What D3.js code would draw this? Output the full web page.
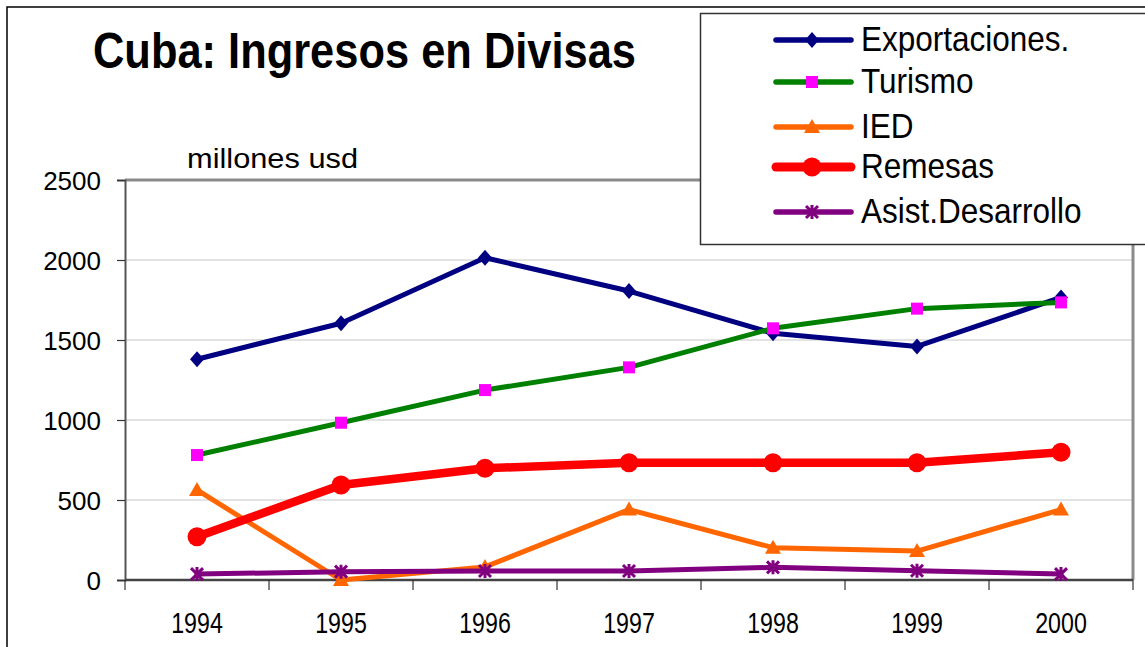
<!DOCTYPE html>
<html>
<head>
<meta charset="utf-8">
<script src="https://cdn.jsdelivr.net/npm/d3@7"></script>
<style>
  body { margin: 0; background: #fff; }
  svg text { font-family: "Liberation Sans", Arial, sans-serif; fill: #000; }
</style>
</head>
<body>
<div id="chart"></div>
<script>
// Data (millones usd)
const years = ["1994", "1995", "1996", "1997", "1998", "1999", "2000"];
const exportaciones = [1380, 1605, 2014, 1806, 1542, 1460, 1766];
const turismo = [781, 983, 1187, 1329, 1573, 1696, 1735];
const ied = [563, 0, 82, 440, 202, 181, 440];
const remesas = [270, 594, 698, 733, 733, 733, 798];
const asistencia = [37, 52, 56, 56, 79, 58, 37];
const yTicks = [0, 500, 1000, 1500, 2000, 2500];

const series = [
    { name: "Exportaciones.", values: exportaciones, color: "#000080", width: 5, marker: "diamond", mcolor: "#000080" },
    { name: "Turismo", values: turismo, color: "#008000", width: 5, marker: "square", mcolor: "#FF00FF" },
    { name: "IED", values: ied, color: "#FF6600", width: 5, marker: "triangle", mcolor: "#FF6600" },
    { name: "Remesas", values: remesas, color: "#FF0000", width: 8.5, marker: "circle", mcolor: "#FF0000" },
    { name: "Asist.Desarrollo", values: asistencia, color: "#800080", width: 5, marker: "star", mcolor: "#800080" }
];

const width = 1145, height = 647;
const plot = { left: 125, right: 1133, top: 180, bottom: 580 };

const svg = d3.select("#chart").append("svg")
    .attr("width", width)
    .attr("height", height);

// outer chart frame (only top and left edges visible)
svg.append("path")
    .attr("d", `M7,${height} L7,7 L${width},7`)
    .attr("fill", "none")
    .attr("stroke", "#000")
    .attr("stroke-width", 1.5);

const x = d3.scaleBand().domain(years).range([plot.left, plot.right]).padding(0);
const y = d3.scaleLinear().domain([0, 2500]).range([plot.bottom, plot.top]);
const cx = d => x(d) + x.bandwidth() / 2;

// gridlines
svg.append("g")
    .selectAll("line")
    .data(yTicks.filter(t => t > 0 && t < 2500))
    .join("line")
    .attr("x1", plot.left).attr("x2", plot.right)
    .attr("y1", d => y(d)).attr("y2", d => y(d))
    .attr("stroke", "#c8c8c8")
    .attr("stroke-width", 1.2);

// plot frame top / right
svg.append("path")
    .attr("d", `M${plot.left},${plot.top} L${plot.right},${plot.top} L${plot.right},${plot.bottom}`)
    .attr("fill", "none")
    .attr("stroke", "#8a8a8a")
    .attr("stroke-width", 3);

// y axis
const yAxis = svg.append("g")
    .attr("transform", `translate(${plot.left},0)`)
    .call(d3.axisLeft(y).tickValues(yTicks).tickSize(8).tickPadding(16).tickFormat(d3.format("d")));
yAxis.select(".domain").attr("stroke", "#555").attr("stroke-width", 2);
yAxis.selectAll(".tick line").attr("stroke", "#333").attr("stroke-width", 1.2);
yAxis.selectAll("text")
    .attr("font-size", 26)
    .attr("font-family", "Liberation Sans, Arial, sans-serif")
    .attr("fill", "#000")
    .attr("dy", "0.36em");

// x axis: ticks at category boundaries
const xAxis = svg.append("g")
    .attr("transform", `translate(0,${plot.bottom})`);
xAxis.append("line")
    .attr("x1", plot.left).attr("x2", plot.right)
    .attr("stroke", "#444").attr("stroke-width", 2.5);
xAxis.selectAll("line.tick")
    .data(years.concat(["end"]))
    .join("line")
    .attr("class", "tick")
    .attr("x1", (d, i) => plot.left + i * x.bandwidth())
    .attr("x2", (d, i) => plot.left + i * x.bandwidth())
    .attr("y1", 0).attr("y2", 10)
    .attr("stroke", "#333").attr("stroke-width", 1.2);
xAxis.selectAll("text")
    .data(years)
    .join("text")
    .attr("x", d => cx(d))
    .attr("y", 53)
    .attr("text-anchor", "middle")
    .attr("font-size", 29)
    .text(d => d)
    .each(function() {
        const w = this.getComputedTextLength();
        d3.select(this).attr("textLength", w * 0.8).attr("lengthAdjust", "spacingAndGlyphs");
    });

// marker drawing
function drawMarker(sel, type, color) {
    if (type === "circle") {
        sel.append("circle").attr("r", 9.5).attr("fill", color);
    } else if (type === "star") {
        sel.append("path")
            .attr("d", "M0,-7 L0,7 M-6,-6 L6,6 M-6,6 L6,-6")
            .attr("stroke", color)
            .attr("stroke-width", 3)
            .attr("fill", "none");
    } else if (type === "diamond") {
        sel.append("path").attr("d", "M0,-8 L7,0 L0,8 L-7,0Z").attr("fill", color);
    } else if (type === "square") {
        sel.append("rect").attr("x", -6).attr("y", -6).attr("width", 12).attr("height", 12).attr("fill", color);
    } else {
        sel.append("path").attr("d", "M0,-8 L8,6 L-8,6Z").attr("fill", color);
    }
}

const line = d3.line()
    .x((d, i) => cx(years[i]))
    .y(d => y(d));

series.forEach(s => {
    const g = svg.append("g");
    g.append("path")
        .datum(s.values)
        .attr("d", line)
        .attr("fill", "none")
        .attr("stroke", s.color)
        .attr("stroke-width", s.width)
        .attr("stroke-linejoin", "round")
        .attr("stroke-linecap", "round");
    g.selectAll("g.mk")
        .data(s.values)
        .join("g")
        .attr("class", "mk")
        .attr("transform", (d, i) => `translate(${cx(years[i])},${y(d)})`)
        .each(function() { drawMarker(d3.select(this), s.marker, s.mcolor); });
});

// title and unit label
svg.append("text")
    .attr("x", 93).attr("y", 68)
    .attr("font-size", 50)
    .attr("font-weight", "bold")
    .attr("textLength", 543)
    .attr("lengthAdjust", "spacingAndGlyphs")
    .text("Cuba: Ingresos en Divisas");

svg.append("text")
    .attr("x", 187).attr("y", 168)
    .attr("font-size", 28)
    .attr("textLength", 171)
    .attr("lengthAdjust", "spacingAndGlyphs")
    .text("millones usd");

// legend
const legend = svg.append("g");
legend.append("rect")
    .attr("x", 700.5).attr("y", 13.5)
    .attr("width", 460).attr("height", 231)
    .attr("fill", "#fff")
    .attr("stroke", "#333")
    .attr("stroke-width", 1.5);

const rowY = [40, 82, 127, 167, 212];
series.forEach((s, i) => {
    const row = legend.append("g").attr("transform", `translate(0,${rowY[i]})`);
    row.append("line")
        .attr("x1", 776).attr("x2", 851)
        .attr("stroke", s.color)
        .attr("stroke-width", s.width + 0.5)
        .attr("stroke-linecap", "round");
    const m = row.append("g").attr("transform", "translate(812,0)");
    drawMarker(m, s.marker, s.mcolor);
    row.append("text")
        .attr("x", 861).attr("y", 11)
        .attr("font-size", 35)
        .text(s.name)
        .each(function() {
            const w = this.getComputedTextLength();
            d3.select(this).attr("textLength", w * 0.9).attr("lengthAdjust", "spacingAndGlyphs");
        });
});
</script>
</body>
</html>
